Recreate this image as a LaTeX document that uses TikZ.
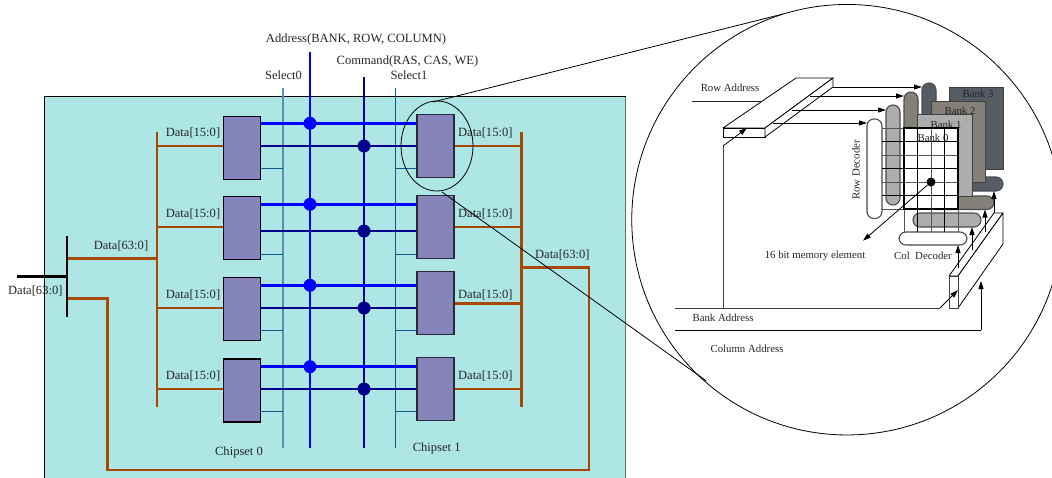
\documentclass[tikz,border=0pt]{standalone}
\usepackage{fontspec}
\setmainfont{Liberation Serif}
\usetikzlibrary{arrows.meta,shapes.geometric}
\definecolor{bgc}{HTML}{AEE6E6}
\definecolor{chipc}{HTML}{8585BC}
\definecolor{brownc}{HTML}{A84800}
\definecolor{blueb}{HTML}{0000FF}
\definecolor{navyb}{HTML}{00008B}
\definecolor{selc}{HTML}{0A5A8A}
\definecolor{selw}{HTML}{5592B4}
\definecolor{bkd}{HTML}{555C64}
\definecolor{bkb}{HTML}{858078}
\definecolor{bkg}{HTML}{ADADAD}
\definecolor{gridg}{HTML}{555555}
\tikzset{
  big/.style={font=\fontsize{12.55}{14}\selectfont,inner sep=0pt,text=black!85},
  small/.style={font=\fontsize{10.8}{12}\selectfont,inner sep=0pt,text=black!85},
  chip/.style={draw=black,line width=1.2pt,fill=chipc,rectangle,minimum width=37pt,minimum height=63pt,inner sep=0pt},
  chipr/.style={chip,draw=black!70!chipc},
  bluebus/.style={draw=blueb,line width=2.8pt},
  navybus/.style={draw=navyb,line width=2.8pt},
  selbus/.style={draw=selc,line width=1pt},
  selwide/.style={draw=selw,line width=1.7pt},
  brownbus/.style={draw=brownc,line width=2.7pt},
  blackbus/.style={draw=black,line width=2.2pt},
  bdot/.style={circle,fill=blueb,minimum size=13pt,inner sep=0pt},
  ndot/.style={circle,fill=navyb,minimum size=13pt,inner sep=0pt},
  thin1/.style={draw=black,line width=0.8pt},
  part/.style={draw=black!75,line width=1pt},
  grayline/.style={draw=gridg,line width=1pt},
  blkline/.style={draw=black,line width=0.9pt},
  arr/.style={-{Triangle[length=8pt,width=5pt]},draw=black,line width=0.8pt},
  capsule/.style={rounded corners=6.9pt,draw=black!70,line width=1.1pt},
}
\begin{document}
\begin{tikzpicture}[x=1pt,y=-1pt]
\useasboundingbox (0,0) rectangle (1052,477);
\clip (0,0) rectangle (1052,477);
% board
\filldraw[fill=bgc,draw=black,line width=1pt] (44.5,490) -- (44.5,96.5) -- (625,96.5) -- (625,490);
\draw[draw=black!50!bgc,line width=1pt] (625,96.5) -- (625,490);
% chips
\node[chip] (L1) at (242,148) {};
\node[chip] (L2) at (242,228) {};
\node[chip] (L3) at (242,309) {};
\node[chip] (L4) at (242,390.5) {};
\node[chipr] (R1) at (435.5,146) {};
\node[chipr] (R2) at (435.5,227) {};
\node[chipr] (R3) at (435.5,303) {};
\node[chipr] (R4) at (435.5,389) {};
% vertical bus ends
\coordinate (addrT) at (310,51.7);
\coordinate (addrB) at (310,447.7);
\coordinate (cmdT) at (364,77);
\coordinate (cmdB) at (364,447.7);
\coordinate (s0T) at (283,87.7);
\coordinate (s0B) at (283,447.7);
\coordinate (s1T) at (395,87.7);
\coordinate (s1B) at (395,447.7);
% select
\draw[selwide] (s0T) -- (s0B);
\draw[selbus] (s1T) -- (s1B);
\foreach \n/\y in {1/168,2/254,3/330.7,4/411.3}{
  \draw[selbus] (L\n.east |- 0,\y) -- (s0T |- 0,\y);
  \draw[selbus] (s1T |- 0,\y) -- (R\n.west |- 0,\y);
}
% address and command
\draw[bluebus] (addrT) -- (addrB);
\draw[navybus] (cmdT) -- (cmdB);
\foreach \n/\a/\c in {1/123.3/146,2/204.3/231,3/285.3/308,4/366.7/389}{
  \node[bdot] (A\n) at (310,\a) {};
  \node[ndot] (C\n) at (364,\c) {};
  \draw[bluebus] (L\n.east |- A\n) -- (R\n.west |- A\n);
  \draw[navybus] (L\n.east |- C\n) -- (R\n.west |- C\n);
}
% data buses
\coordinate (busLT) at (157,132);
\coordinate (busLB) at (157,406.7);
\coordinate (busRT) at (521.3,132);
\coordinate (busRB) at (521.3,406.7);
\coordinate (jL1) at (67.5,258.5);
\coordinate (jL2) at (67.5,298.3);
\coordinate (jR) at (521.3,267.7);
\coordinate (wA) at (107.5,470);
\coordinate (wB) at (589,470);
\draw[brownbus] (busLT) -- (busLB);
\draw[brownbus] (busRT) -- (busRB);
\foreach \n/\y in {1/146,2/227,3/308,4/389}
  \draw[brownbus] (busLT |- 0,\y) -- (L\n.west |- 0,\y);
\foreach \n/\y in {1/146,2/227,3/303.7,4/389}
  \draw[brownbus] (R\n.east |- 0,\y) -- (busRT |- 0,\y);
\draw[brownbus] (jL1) -- (busLT |- jL1);
\draw[brownbus,line join=miter] (jL2) -- (wA |- jL2) -- (wA) -- (wB) -- (wB |- jR) -- (jR);
% input
\coordinate (inT) at (67,236);
\coordinate (inB) at (67,317);
\coordinate (inL) at (17,276.5);
\draw[blackbus] (inT) -- (inB);
\draw[blackbus] (inL) -- (inT |- inL);
% labels main
\node[big] (tAddr) at (356,39) {Address(BANK, ROW, COLUMN)};
\node[big] (tCmd) at (407.5,61.5) {Command(RAS, CAS, WE)};
\node[big] (tS0) at (283.5,75) {Select0};
\node[big] (tS1) at (409,75) {Select1};
\foreach \i/\y in {1/133,2/214,3/295,4/376}{
  \node[big] (dl\i) at (193,\y) {Data[15:0]};
  \node[big] (dr\i) at (485.3,\y) {Data[15:0]};
}
\node[big] (d1) at (121,245.7) {Data[63:0]};
\node[big] (d2) at (35.3,291) {Data[63:0]};
\node[big] (d3) at (562.3,255) {Data[63:0]};
\node[big] (ch0) at (239,452.5) {Chipset 0};
\node[big] (ch1) at (436.7,448) {Chipset 1};
% magnifier
\node[draw=black,line width=0.8pt,ellipse,minimum width=72pt,minimum height=90pt,inner sep=0pt] (lens) at (437,146) {};
\node[draw=black,line width=0.8pt,circle,minimum size=430.5pt,inner sep=0pt] (big) at (847,219.7) {};
\coordinate (z1a) at (433,102);
\coordinate (z1b) at (783,14);
\coordinate (z2a) at (442,192);
\coordinate (z2b) at (706,380.7);
\draw[thin1] (z1a) -- (z1b);
\draw[thin1] (z2a) -- (z2b);
% capsules behind the banks
\draw[capsule,fill=bkd] (922,150) rectangle (936,83);
\draw[capsule,fill=bkb] (904,190) rectangle (918,92);
\draw[capsule,fill=bkg] (886,205) rectangle (900,105);
\draw[capsule,fill=white] (867,218.5) rectangle (882,119);
\draw[capsule,fill=bkd] (945,177) rectangle (1003,191);
\draw[capsule,fill=bkb] (931,196) rectangle (994,209.5);
\draw[capsule,fill=bkg] (913,213) rectangle (981,227);
\draw[capsule,fill=white] (899,232) rectangle (967,245);
% banks
\draw[part,fill=bkd] (949,87) rectangle (1003,169);
\node[small] (b3) at (978,93.5) {Bank 3};
\draw[part,fill=bkb] (931,101) rectangle (985,182);
\node[small] (b2) at (960,111) {Bank 2};
\draw[part,fill=bkg] (917,114) rectangle (972,196);
\node[small] (b1) at (946,124.5) {Bank 1};
\draw[draw=black,line width=1.6pt,fill=white] (904,128) rectangle (958,209);
\node[small] (b0) at (933,138) {Bank 0};
% grid
\foreach \y in {128,155,182,209} \draw[grayline] (882,\y) -- (958,\y);
\foreach \y in {141.7,168.7,195.7} \draw[blkline] (882,\y) -- (958,\y);
\foreach \x in {904,931,958} \draw[grayline] (\x,128) -- (\x,232);
\foreach \x in {917.7,944.3} \draw[blkline] (\x,128) -- (\x,232);
\draw[draw=black,line width=1.6pt] (904,128) rectangle (958,209);
\node[circle,fill=black,minimum size=9pt,inner sep=0pt] (cell) at (931,182) {};
\coordinate (cellT) at (863,240.7);
\draw[arr] (cell) -- (cellT);
% row select box
\coordinate (ra0) at (692,101);
\coordinate (ra1) at (762,101);
\filldraw[fill=white,draw=black,line width=0.8pt,line join=round] (723,128) -- (796,78) -- (833,78) -- (765,128) -- cycle;
\filldraw[fill=white,draw=black,line width=0.8pt,line join=round] (723,128) rectangle (765,137);
\filldraw[fill=white,draw=black,line width=0.8pt,line join=round] (765,128) -- (833,78) -- (833,87) -- (765,137) -- cycle;
\draw[draw=black!85,line width=0.8pt] (ra0) -- (ra1);
\draw[arr] (833,87) -- (922,87);
\draw[arr] (810,96) -- (904,96);
\draw[arr] (792,110) -- (886,110);
\draw[arr] (773,123) -- (867,123);
% column select box
\filldraw[fill=white,draw=black,line width=0.8pt,line join=round] (949,276) -- (994,213) -- (1003,213) -- (958,276) -- cycle;
\filldraw[fill=white,draw=black,line width=0.8pt,line join=round] (958,276) -- (1003,213) -- (1003,244) -- (958,308) -- cycle;
\filldraw[fill=white,draw=black!75,line width=1pt,line join=round] (949,276) rectangle (958,308);
\draw[arr] (958,268) -- (958,245);
\draw[arr] (972,250) -- (972,227);
\draw[arr] (985,232) -- (985,209.5);
\draw[arr] (994,213) -- (994,191);
% address wires
\coordinate (bankL) at (675,308);
\coordinate (bankM) at (940,308);
\coordinate (colL) at (675,330);
\coordinate (colM) at (981,330);
\draw[draw=black!75,line width=1pt] (bankL) -- (bankM);
\draw[arr] (bankM) -- (958,290);
\draw[draw=black!75,line width=1pt] (723,308) -- (723,146);
\draw[arr] (723,146) -- (747,128);
\draw[draw=black,line width=0.8pt] (colL) -- (colM);
\draw[arr] (colM) -- (981,281);
% labels detail
\node[small] (tRA) at (730,88) {Row Address};
\node[small,rotate=90] (tRD) at (856,170) {Row Decoder};
\node[small] (t16) at (815,256) {16 bit memory element};
\node[small] (tCD) at (923,256) {Col\ \ Decoder};
\node[small] (tBA) at (723,318) {Bank Address};
\node[small] (tCA) at (747,349) {Column Address};
\end{tikzpicture}
\end{document}
